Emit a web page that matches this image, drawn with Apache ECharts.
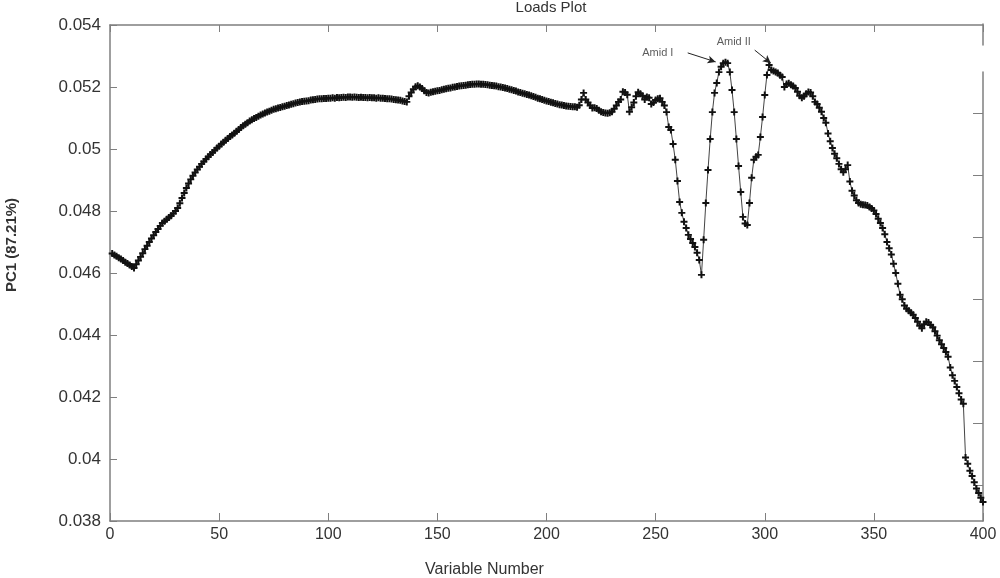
<!DOCTYPE html>
<html>
<head>
<meta charset="utf-8">
<script src="https://cdn.jsdelivr.net/npm/echarts@6/dist/echarts.min.js"></script>
<style>html,body{margin:0;padding:0;background:#fff}#c{width:1000px;height:578px}</style>
</head>
<body>
<div id="c"></div>
<script>
// ---- data (variable 1..400) ----
const pc1Part1 = [
0.04663,0.04658,0.04654,0.04649,0.04645,0.04640,0.04635,0.04631,0.04626,0.04621,
0.04616,0.04628,0.04640,0.04652,0.04664,0.04677,0.04688,0.04700,0.04711,0.04722,
0.04732,0.04742,0.04752,0.04761,0.04767,0.04773,0.04779,0.04785,0.04792,0.04800,
0.04810,0.04825,0.04842,0.04858,0.04874,0.04889,0.04902,0.04914,0.04924,0.04934,
0.04943,0.04952,0.04960,0.04968,0.04975,0.04982,0.04989,0.04996,0.05003,0.05009,
0.05016,0.05022,0.05028,0.05034,0.05040,0.05045,0.05051,0.05057,0.05063,0.05069,
0.05075,0.05080,0.05085,0.05090,0.05094,0.05098,0.05102,0.05106,0.05110,0.05113,
0.05116,0.05119,0.05122,0.05125,0.05128,0.05130,0.05132,0.05134,0.05136,0.05138,
0.05140,0.05142,0.05144,0.05146,0.05148,0.05150,0.05152,0.05153,0.05154,0.05155,
0.05156,0.05158,0.05159,0.05160,0.05161,0.05162,0.05162,0.05163,0.05163,0.05164];
const pc1Part2 = [
0.05164,0.05165,0.05164,0.05166,0.05165,0.05166,0.05167,0.05166,0.05168,0.05168,
0.05167,0.05168,0.05167,0.05166,0.05167,0.05166,0.05166,0.05165,0.05166,0.05165,
0.05165,0.05164,0.05165,0.05164,0.05164,0.05163,0.05162,0.05162,0.05161,0.05160,
0.05159,0.05158,0.05157,0.05155,0.05153,0.05152,0.05170,0.05182,0.05193,0.05201,
0.05204,0.05200,0.05195,0.05188,0.05182,0.05181,0.05183,0.05185,0.05186,0.05188,
0.05189,0.05191,0.05193,0.05194,0.05196,0.05197,0.05199,0.05200,0.05202,0.05203,
0.05204,0.05205,0.05206,0.05207,0.05208,0.05209,0.05209,0.05210,0.05210,0.05209,
0.05209,0.05208,0.05207,0.05206,0.05205,0.05204,0.05203,0.05201,0.05200,0.05198,
0.05197,0.05195,0.05193,0.05191,0.05189,0.05187,0.05184,0.05182,0.05180,0.05178,
0.05176,0.05174,0.05172,0.05169,0.05167,0.05164,0.05162,0.05160,0.05157,0.05155];
const pc1Part3 = [
0.05153,0.05151,0.05149,0.05147,0.05145,0.05143,0.05142,0.05140,0.05139,0.05138,
0.05137,0.05136,0.05136,0.05135,0.05141,0.05160,0.05181,0.05160,0.05150,0.05140,
0.05132,0.05133,0.05131,0.05125,0.05120,0.05118,0.05116,0.05115,0.05117,0.05120,
0.05130,0.05140,0.05152,0.05160,0.05185,0.05182,0.05175,0.05120,0.05135,0.05150,
0.05170,0.05183,0.05178,0.05172,0.05160,0.05168,0.05165,0.05145,0.05150,0.05158,
0.05162,0.05164,0.05152,0.05140,0.05119,0.05071,0.05061,0.05016,0.04965,0.04897,
0.04829,0.04794,0.04765,0.04745,0.04723,0.04710,0.04697,0.04684,0.04665,0.04642,
0.04594,0.04707,0.04826,0.04932,0.05032,0.05119,0.05181,0.05213,0.05248,0.05265,
0.05277,0.05280,0.05277,0.05248,0.05190,0.05119,0.05032,0.04945,0.04861,0.04781,
0.04760,0.04755,0.04826,0.04907,0.04965,0.04975,0.04981,0.05039,0.05103,0.05174];
const pc1Part4 = [
0.05239,0.05271,0.05255,0.05252,0.05248,0.05245,0.05238,0.05232,0.05200,0.05210,
0.05212,0.05207,0.05203,0.05197,0.05185,0.05172,0.05165,0.05170,0.05178,0.05184,
0.05182,0.05170,0.05152,0.05145,0.05133,0.05120,0.05100,0.05085,0.05050,0.05025,
0.05003,0.04985,0.04970,0.04952,0.04935,0.04925,0.04935,0.04948,0.04895,0.04865,
0.04850,0.04835,0.04826,0.04822,0.04820,0.04819,0.04818,0.04813,0.04808,0.04802,
0.04790,0.04775,0.04761,0.04745,0.04725,0.04700,0.04680,0.04660,0.04630,0.04600,
0.04565,0.04530,0.04515,0.04495,0.04485,0.04478,0.04472,0.04465,0.04455,0.04443,
0.04430,0.04422,0.04435,0.04443,0.04440,0.04432,0.04425,0.04412,0.04398,0.04383,
0.04370,0.04358,0.04345,0.04330,0.04295,0.04270,0.04252,0.04232,0.04212,0.04192,
0.04178,0.04005,0.03985,0.03962,0.03945,0.03925,0.03905,0.03890,0.03875,0.03861];

const xTicks = [0, 50, 100, 150, 200, 250, 300, 350, 400];
const yTicks = [0.038, 0.040, 0.042, 0.044, 0.046, 0.048, 0.050, 0.052, 0.054];
const annotationNames = ['Amid I', 'Amid II'];
const annotationTextPos = [[251, 0.05310], [285.8, 0.05345]];
const annotationArrowFrom = [[264.7, 0.05310], [295.4, 0.05319]];
const annotationArrowTo = [[277.5, 0.05281], [302.8, 0.05277]];

const titleText = 'Loads Plot';
const xName = 'Variable Number';
const yName = 'PC1 (87.21%)';

// ---- build ----
const pc1 = [].concat(pc1Part1, pc1Part2, pc1Part3, pc1Part4);
const seriesData = pc1.map((v, i) => [i + 1, v]);

const axisColor = '#7f7f7f';
const labelColor = '#333';
const FONT = 'Liberation Sans, Arial, Helvetica, sans-serif';
const plusPath = 'path://M3.6,0h2.8v3.6h3.6v2.8h-3.6v3.6h-2.8v-3.6h-3.6v-2.8h3.6z';

const chart = echarts.init(document.getElementById('c'), null, {renderer: 'canvas'});
chart.setOption({
  animation: false,
  backgroundColor: '#fff',
  textStyle: {fontFamily: FONT},
  title: {
    text: titleText, left: 546, top: -5, textAlign: 'center',
    textStyle: {fontSize: 15, fontWeight: 'normal', color: labelColor, fontFamily: FONT}
  },
  grid: [
    {left: 110, right: 17, top: 25, bottom: 57},
    {left: 110, right: 17, top: 72, bottom: 57},
    {left: 110, right: 17, top: 51, bottom: 31},
    {left: 110, right: 17, top: 24, height: 21}
  ],
  xAxis: [
    {gridIndex: 0, type: 'value', min: xTicks[0], max: xTicks[xTicks.length - 1], interval: 50,
     axisLine: {show: true, onZero: false, lineStyle: {color: axisColor, width: 1.5}},
     axisTick: {show: true, inside: true, length: 8, lineStyle: {color: axisColor}},
     axisLabel: {fontSize: 16, color: labelColor, margin: 6, fontFamily: FONT},
     splitLine: {show: false}},
    {gridIndex: 0, type: 'value', position: 'top', min: xTicks[0], max: xTicks[xTicks.length - 1], interval: 50,
     axisLine: {show: true, onZero: false, lineStyle: {color: axisColor, width: 1.5}},
     axisTick: {show: true, inside: true, length: 7, lineStyle: {color: axisColor}},
     axisLabel: {show: false}, splitLine: {show: false}},
    {gridIndex: 1, type: 'value', show: false, min: 0, max: 1},
    {gridIndex: 2, type: 'value', show: false, min: 0, max: 1},
    {gridIndex: 3, type: 'value', show: false, min: 0, max: 1}
  ],
  yAxis: [
    {gridIndex: 0, type: 'value', min: yTicks[0], max: yTicks[yTicks.length - 1], interval: 0.002,
     axisLine: {show: true, onZero: false, lineStyle: {color: axisColor, width: 1.5}},
     axisTick: {show: true, inside: true, length: 7, lineStyle: {color: axisColor}},
     axisLabel: {fontSize: 17, color: labelColor, margin: 9, fontFamily: FONT,
       formatter: v => String(+(+v).toFixed(3))},
     splitLine: {show: false}},
    {gridIndex: 1, type: 'value', position: 'right', min: 0, max: 1,
     axisLine: {show: true, onZero: false, lineStyle: {color: axisColor, width: 1.5}},
     axisTick: {show: false}, axisLabel: {show: false}, splitLine: {show: false}},
    {gridIndex: 2, type: 'category', position: 'right', boundaryGap: false,
     data: ['a','b','c','d','e','f','g','h','i'],
     axisLine: {show: false, onZero: false},
     axisTick: {show: true, inside: true, length: 10, interval: (i) => i >= 1 && i <= 7,
       lineStyle: {color: axisColor}},
     axisLabel: {show: false}, splitLine: {show: false}},
    {gridIndex: 3, type: 'value', position: 'right', min: 0, max: 1,
     axisLine: {show: true, onZero: false, lineStyle: {color: axisColor, width: 1.5}},
     axisTick: {show: false}, axisLabel: {show: false}, splitLine: {show: false}}
  ],
  series: [
    {
      type: 'line', xAxisIndex: 0, yAxisIndex: 0, data: seriesData,
      symbol: plusPath, symbolSize: 7, showSymbol: true, showAllSymbol: true,
      itemStyle: {color: '#111'},
      lineStyle: {color: '#444', width: 1},
      emphasis: {disabled: true},
      markLine: {
        silent: true, symbol: ['none', 'arrow'], symbolSize: [6, 8],
        lineStyle: {color: '#222', width: 1, type: 'solid'},
        label: {show: false},
        data: annotationArrowFrom.map((p, i) => [{coord: p}, {coord: annotationArrowTo[i]}])
      }
    },
    {
      type: 'scatter', xAxisIndex: 0, yAxisIndex: 0, symbolSize: 1,
      itemStyle: {color: 'rgba(0,0,0,0)'},
      label: {show: true, position: 'inside', formatter: '{b}', fontSize: 11, color: '#333', fontFamily: FONT},
      data: annotationNames.map((n, i) => ({name: n, value: annotationTextPos[i]}))
    }
  ],
  graphic: [
    {type: 'text', left: 425, top: 562,
     style: {text: xName, fontSize: 16, fill: labelColor, fontFamily: FONT}},
    {type: 'text', x: 4, y: 245, rotation: Math.PI / 2,
     style: {text: yName, fontSize: 15, fontWeight: 'bold', fill: labelColor, fontFamily: FONT,
       textAlign: 'center', textVerticalAlign: 'top'}}
  ]
});
</script>
</body>
</html>
